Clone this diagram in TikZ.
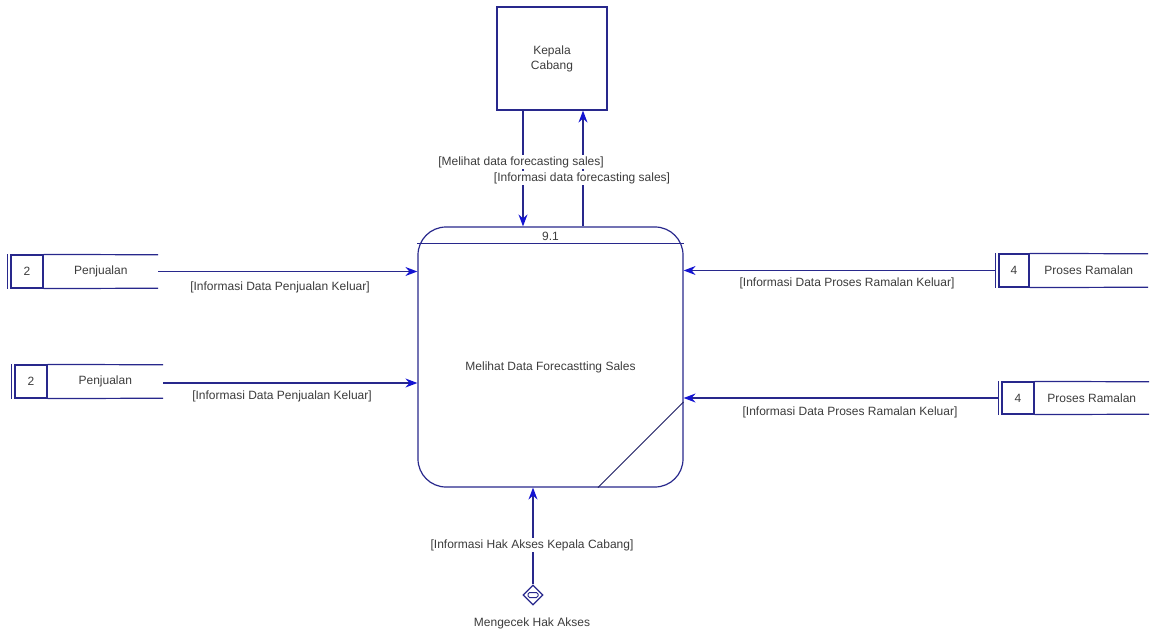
\documentclass[tikz,border=0pt]{standalone}
\usepackage{fontspec}
\setmainfont{Liberation Sans}
\usetikzlibrary{positioning,shapes.geometric,arrows.meta,calc}
\definecolor{dfdline}{RGB}{40,40,140}
\definecolor{dfdhead}{RGB}{20,20,210}
\definecolor{dfdtext}{RGB}{60,60,60}
\tikzset{entity/.style={rectangle,draw=dfdline,line width=1.2pt,minimum width=110pt,minimum height=103pt,align=center,text=dfdtext,font=\fontsize{12}{15}\selectfont},
	proc/.style={rectangle,draw=dfdline,line width=1.2pt,rounded corners=28pt,minimum width=265pt,minimum height=260pt},
	storeid/.style={rectangle,draw=dfdline,line width=1.2pt,minimum width=32pt,minimum height=33pt,inner sep=0pt,text=dfdtext,font=\fontsize{12}{14}\selectfont},
	storename/.style={rectangle,minimum height=33pt,inner sep=0pt,text=dfdtext,font=\fontsize{12}{14}\selectfont},
	flow/.style={draw=dfdline,line width=1.2pt,-{Stealth[length=12pt,width=9pt,inset=4pt,color=dfdhead,fill=dfdhead]}},
	lbl/.style={fill=white,inner sep=1pt,text=dfdtext,font=\fontsize{12}{14}\selectfont},
	check/.style={diamond,draw=dfdline,line width=1.2pt,minimum width=20pt,minimum height=20pt,inner sep=0pt},
}

\begin{document}
\begin{tikzpicture}[x=1pt,y=-1pt]
	\useasboundingbox (0,0) rectangle (1151,631);
	% terminator and process
	\node[entity] (kc) at (552,58.5) {Kepala\\Cabang};
	\node[proc] (p) at (550.5,357) {};
	\node[lbl,fill=none] (pnum) at (550.5,236) {9.1};
	\node[lbl,fill=none] (pname) at (550.5,367) {Melihat Data Forecastting Sales};
	\draw[dfdline,line width=1.2pt] ($(p.north west)+(0,17)$) -- ($(p.north east)+(0,17)$);
	\draw[dfdline!70!black,line width=0.9pt] ($(p.east)+(0,45)$) -- ($(p.south)+(47.5,0)$);
	
	% data stores left
	\node[storeid] (s1id) at (27,271.5) {2};
	\node[storename,minimum width=114pt] (s1) [right=0pt of s1id] {Penjualan};
	\node[storeid] (s2id) at (31,381.5) {2};
	\node[storename,minimum width=115pt] (s2) [right=0pt of s2id] {Penjualan};
	% data stores right
	\node[storeid,minimum width=30pt] (s3id) at (1014,270.5) {4};
	\node[storename,minimum width=118pt] (s3) [right=0pt of s3id] {Proses Ramalan};
	\node[storeid,minimum height=32pt] (s4id) at (1018,398) {4};
	\node[storename,minimum width=114pt,minimum height=32pt] (s4) [right=0pt of s4id] {Proses Ramalan};
	\foreach \s in {s1,s2,s3,s4} {
		\draw[dfdline,line width=1.2pt] ([xshift=-3pt]\s id.north west) -- ([xshift=-3pt]\s id.south west);
		\draw[dfdline,line width=1.2pt] (\s id.north east) -- (\s.north east);
		\draw[dfdline,line width=1.2pt] (\s id.south east) -- (\s.south east);
	}
	
	% access check
	\node[check] (chk) at (533,595) {};
	\draw[dfdline,line width=1pt,rounded corners=1.5pt] ($(chk.center)+(-5,-2.5)$) rectangle ($(chk.center)+(5,2.5)$);
	\node[lbl] (chkname) at (532,623) {Mengecek Hak Akses};
	
	% flows
	\draw[flow] ([xshift=-29pt]kc.south) -- ([xshift=-29pt]kc.south |- p.north);
	\draw[flow] ([xshift=31pt]kc.south |- p.north) -- ([xshift=31pt]kc.south);
	\draw[flow] (s1.east) -- (s1.east -| p.west);
	\draw[flow] (s2.east |- 0,383) -- (p.west |- 0,383);
	\draw[flow] ([xshift=-3pt]s3id.west) -- (s3id.west -| p.east);
	\draw[flow] ([xshift=-3pt]s4id.west) -- (s4id.west -| p.east);
	\draw[flow] (chk.north) -- (chk.north |- p.south);
	
	% flow labels
	\node[lbl] (f1) at (521,162) {[Melihat data forecasting sales]};
	\node[lbl] (f2) at (582,178) {[Informasi data forecasting sales]};
	\node[lbl] (f3) at (280,287) {[Informasi Data Penjualan Keluar]};
	\node[lbl] (f4) at (282,396) {[Informasi Data Penjualan Keluar]};
	\node[lbl] (f5) at (847,283) {[Informasi Data Proses Ramalan Keluar]};
	\node[lbl] (f6) at (850,412) {[Informasi Data Proses Ramalan Keluar]};
	\node[lbl] (f7) at (532,545) {[Informasi Hak Akses Kepala Cabang]};
\end{tikzpicture}
\end{document}
